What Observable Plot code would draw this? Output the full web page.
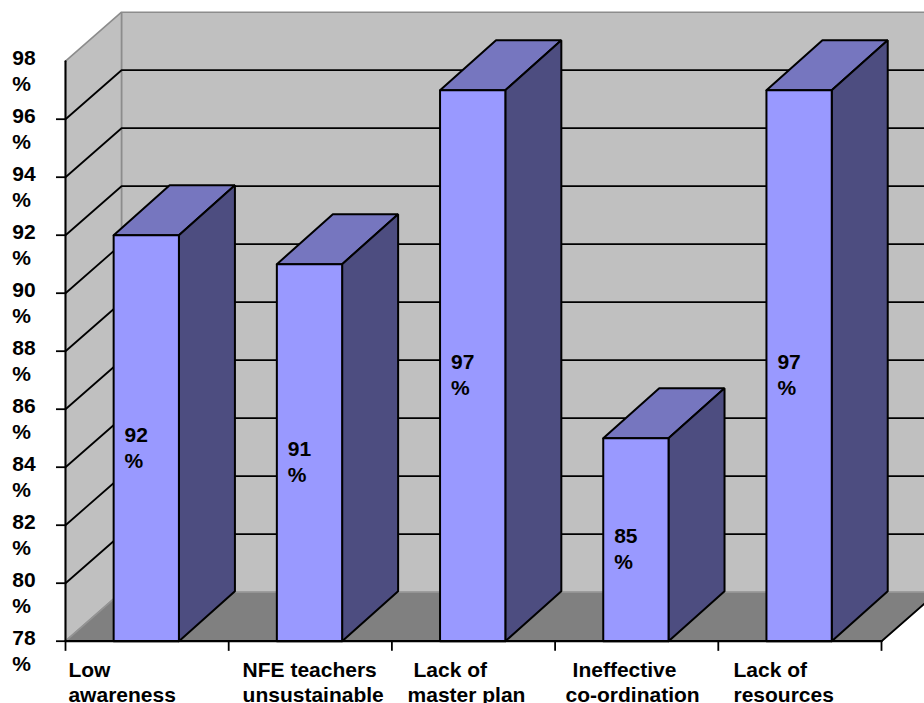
<!DOCTYPE html>
<html>
<head>
<meta charset="utf-8">
<script src="https://cdn.jsdelivr.net/npm/d3@7"></script>
<script src="https://cdn.jsdelivr.net/npm/@observablehq/plot@0.6"></script>
<style>
  html, body { margin: 0; padding: 0; background: #fff; }
  svg { display: block; }
</style>
</head>
<body>
<div id="chart"></div>
<script>
// Problems reported in non-formal education, as percentage of respondents
const categoryFirstLines = ["Low", "NFE teachers", "Lack of", "Ineffective", "Lack of"];
const categorySecondLines = ["awareness", "unsustainable", "master plan", "co-ordination", "resources"];
const values = [92, 91, 97, 85, 97];
const yTicks = [78, 80, 82, 84, 86, 88, 90, 92, 94, 96];
const yLabels = [78, 80, 82, 84, 86, 88, 90, 92, 94, 96, 98];

const yMin = 78, yMax = 98;

// Oblique depth of the 3D box and of the bars, in axis units
const depthX = 56 / 163.2;
const depthY = 49 / 29;
const barDepthY = 50 / 29;

// Bar placement inside a category slot, and label insets from the slot's left tick
const barStart = 0.295, barWidth = 0.4;
const valueLabelInset = 0.067;
const firstLineInsets = [0.018, 0.085, 0.132, 0.107, 0.093];
const secondLineInsets = [0.018, 0.085, 0.096, 0.064, 0.093];

const wall = "#c0c0c0", floor = "#808080", edge = "#8c8c8c";
const front = "#9999ff", top_ = "#7676bf", side = "#4d4d80";
const font = {fontFamily: "'Liberation Sans', Arial, sans-serif", fontWeight: "bold", fontSize: 21, fill: "#000", lineHeight: 1.24};

// A filled outline given as [x, y] pairs in axis units
const face = (pts, fill, stroke, strokeWidth = 1.6) =>
  Plot.line([...pts, pts[0]], {x: d => d[0], y: d => d[1], fill, stroke, strokeWidth, strokeLinejoin: "miter"});

const path = (pts, stroke, strokeWidth = 1.8) =>
  Plot.line(pts, {x: d => d[0], y: d => d[1], stroke, strokeWidth});

const barFaces = values.flatMap((v, i) => {
  const x1 = i + barStart, x2 = x1 + barWidth;
  return [
    face([[x1, v], [x2, v], [x2 + depthX, v + barDepthY], [x1 + depthX, v + barDepthY]], top_, "#000", 2),
    face([[x2, yMin], [x2 + depthX, yMin + barDepthY], [x2 + depthX, v + barDepthY], [x2, v]], side, "#000", 2),
    face([[x1, yMin], [x2, yMin], [x2, v], [x1, v]], front, "#000", 2)
  ];
});

const xEnd = values.length;

const plot = Plot.plot({
  width: 924,
  height: 703,
  margin: 0,
  x: {type: "linear", domain: [0, xEnd], range: [65, 881], axis: null},
  y: {type: "linear", domain: [yMin, yMax], range: [640.7, 60.7], axis: null},
  marks: [
    // back wall, side wall and floor
    face([[depthX, yMin + depthY], [xEnd + depthX, yMin + depthY], [xEnd + depthX, yMax + depthY], [depthX, yMax + depthY]], wall, edge),
    face([[0, yMin], [depthX, yMin + depthY], [depthX, yMax + depthY], [0, yMax]], wall, edge),
    face([[0, yMin], [xEnd, yMin], [xEnd + depthX, yMin + depthY], [depthX, yMin + depthY]], floor, "#949494"),

    // gridlines wrapping from the side wall onto the back wall
    ...yTicks.slice(1).map(t => path([[0, t], [depthX, t + depthY], [xEnd + depthX, t + depthY]], "#000")),

    ...barFaces,

    // axes
    path([[0, yMin], [0, yMax]], "#000", 2),
    path([[0, yMin], [xEnd, yMin]], "#000", 2.2),
    path([[xEnd, yMin], [xEnd + depthX, yMin + depthY]], "#000", 1.8),
    Plot.ruleY(yTicks, {y: d => d, x1: -0.055, x2: 0, stroke: "#000", strokeWidth: 1.8}),
    Plot.ruleX(d3.range(xEnd + 1), {x: d => d, y1: yMin, y2: yMin - 0.35, stroke: "#000", strokeWidth: 1.8}),

    // tick labels
    Plot.text(yLabels, {
      ...font, x: -0.326, y: d => d, text: d => `${d}\n%`,
      textAnchor: "start", lineAnchor: "top", dy: -15.2
    }),
    Plot.text(categoryFirstLines, {
      ...font, x: (d, i) => i + firstLineInsets[i], y: yMin, text: d => d,
      textAnchor: "start", lineAnchor: "bottom", dy: 35.3
    }),
    Plot.text(categorySecondLines, {
      ...font, x: (d, i) => i + secondLineInsets[i], y: yMin, text: d => d,
      textAnchor: "start", lineAnchor: "bottom", dy: 61
    }),

    // value labels inside the bars
    Plot.text(values, {
      ...font, x: (d, i) => i + barStart + valueLabelInset, y: d => (d + yMin) / 2,
      text: d => `${d}\n%`, textAnchor: "start", lineAnchor: "top", dy: -14.9
    })
  ]
});

document.getElementById("chart").append(plot);
</script>
</body>
</html>
